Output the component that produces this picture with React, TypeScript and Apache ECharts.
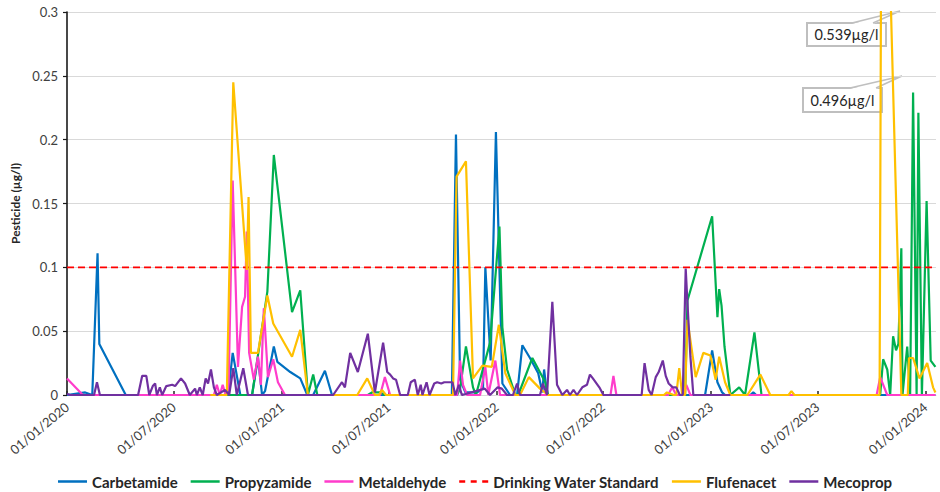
import React, { useEffect, useRef } from "react";
import * as echarts from "echarts";

type Pt = [string, number];

const seriesNames = [
  "Carbetamide",
  "Propyzamide",
  "Metaldehyde",
  "Drinking Water Standard",
  "Flufenacet",
  "Mecoprop",
];

const carbetamide: Pt[] = [
  ["2020-01-01", 0], ["2020-02-01", 0.002], ["2020-02-13", 0], ["2020-02-22", 0.111],
  ["2020-02-25", 0.04], ["2020-04-10", 0], ["2020-10-01", 0], ["2020-10-09", 0.033],
  ["2020-10-22", 0], ["2020-11-11", 0], ["2020-11-21", 0.029], ["2020-11-28", 0],
  ["2020-12-03", 0.003], ["2020-12-18", 0.038], ["2020-12-24", 0.026], ["2021-01-15", 0.018],
  ["2021-02-01", 0.013], ["2021-02-13", 0], ["2021-02-23", 0], ["2021-03-15", 0.019],
  ["2021-03-27", 0], ["2021-10-17", 0], ["2021-10-24", 0.204], ["2021-10-31", 0.012],
  ["2021-11-09", 0.002], ["2021-11-29", 0.002], ["2021-12-09", 0.005], ["2021-12-13", 0.1],
  ["2021-12-22", 0.027], ["2021-12-31", 0.206], ["2022-01-11", 0.009], ["2022-01-24", 0],
  ["2022-02-05", 0], ["2022-02-14", 0.039], ["2022-02-27", 0.029], ["2022-03-13", 0.017],
  ["2022-03-20", 0.002], ["2022-03-23", 0.02], ["2022-03-28", 0], ["2022-12-22", 0],
  ["2023-01-03", 0.035], ["2023-01-12", 0.01], ["2023-01-20", 0.002], ["2023-01-25", 0],
  ["2023-03-09", 0], ["2023-03-14", 0.002], ["2023-03-19", 0], ["2024-01-18", 0],
];

const propyzamide: Pt[] = [
  ["2020-09-01", 0], ["2020-11-11", 0], ["2020-12-07", 0.081], ["2020-12-18", 0.188],
  ["2021-01-18", 0.065], ["2021-02-01", 0.082], ["2021-02-14", 0], ["2021-02-23", 0.016],
  ["2021-03-02", 0], ["2021-05-27", 0], ["2021-06-03", 0.002], ["2021-06-17", 0.002],
  ["2021-06-25", 0], ["2021-10-26", 0], ["2021-10-31", 0.005], ["2021-11-10", 0.038],
  ["2021-11-22", 0.006], ["2021-11-27", 0], ["2021-12-21", 0.041], ["2022-01-06", 0.132],
  ["2022-01-11", 0.053], ["2022-01-19", 0.02], ["2022-02-02", 0], ["2022-02-07", 0],
  ["2022-03-03", 0.029], ["2022-03-25", 0.01], ["2022-03-30", 0], ["2022-11-18", 0],
  ["2022-11-22", 0.074], ["2023-01-03", 0.14], ["2023-01-12", 0.061], ["2023-01-15", 0.083],
  ["2023-01-19", 0.07], ["2023-01-24", 0.038], ["2023-02-03", 0], ["2023-02-18", 0.006],
  ["2023-02-28", 0], ["2023-03-16", 0.049], ["2023-03-28", 0], ["2023-10-16", 0],
  ["2023-10-21", 0.028], ["2023-10-28", 0.02], ["2023-11-02", 0], ["2023-11-07", 0.046],
  ["2023-11-12", 0.035], ["2023-11-16", 0.04], ["2023-11-21", 0.115], ["2023-11-23", 0],
  ["2023-12-01", 0.038], ["2023-12-06", 0], ["2023-12-11", 0.237], ["2023-12-17", 0],
  ["2023-12-20", 0.221], ["2023-12-26", 0], ["2024-01-03", 0.152], ["2024-01-10", 0.027],
  ["2024-01-18", 0.022],
];

const metaldehyde: Pt[] = [
  ["2020-01-01", 0.013], ["2020-01-28", 0], ["2020-09-07", 0], ["2020-09-12", 0.008],
  ["2020-09-17", 0], ["2020-09-22", 0.008], ["2020-09-27", 0], ["2020-10-02", 0.005],
  ["2020-10-09", 0.168], ["2020-10-18", 0.022], ["2020-10-25", 0.069], ["2020-10-30", 0.077],
  ["2020-11-02", 0.128], ["2020-11-06", 0.033], ["2020-11-14", 0.012], ["2020-11-21", 0.03],
  ["2020-11-26", 0.008], ["2020-12-01", 0.068], ["2020-12-08", 0.014], ["2020-12-17", 0.028],
  ["2020-12-25", 0.01], ["2021-01-06", 0], ["2021-06-17", 0], ["2021-06-25", 0.014],
  ["2021-07-04", 0], ["2021-10-26", 0], ["2021-10-31", 0.027], ["2021-11-05", 0.008],
  ["2021-11-12", 0], ["2021-12-04", 0], ["2021-12-13", 0.022], ["2021-12-18", 0],
  ["2021-12-30", 0.027], ["2022-01-07", 0], ["2022-07-14", 0], ["2022-07-19", 0.015],
  ["2022-07-24", 0], ["2022-10-20", 0], ["2022-10-27", 0.006], ["2022-11-03", 0],
  ["2022-11-15", 0], ["2022-11-20", 0.008], ["2022-11-27", 0], ["2023-10-10", 0],
  ["2023-10-16", 0.014], ["2023-10-28", 0], ["2024-01-18", 0],
];

const drinkingWaterStandard: Pt[] = [
  ["2020-01-01", 0.1], ["2024-01-19", 0.1],
];

const flufenacet: Pt[] = [
  ["2020-09-01", 0], ["2020-09-29", 0], ["2020-10-10", 0.245], ["2020-11-02", 0.098],
  ["2020-11-05", 0.155], ["2020-11-09", 0.033], ["2020-11-21", 0.033], ["2020-12-07", 0.078],
  ["2020-12-17", 0.056], ["2021-01-18", 0.03], ["2021-02-01", 0.051], ["2021-02-14", 0],
  ["2021-05-09", 0], ["2021-05-26", 0.013], ["2021-06-08", 0], ["2021-06-15", 0],
  ["2021-06-20", 0.004], ["2021-06-27", 0], ["2021-10-19", 0], ["2021-10-25", 0.171],
  ["2021-11-10", 0.183], ["2021-11-22", 0.013], ["2021-12-08", 0.023], ["2021-12-24", 0.022],
  ["2022-01-05", 0.055], ["2022-01-16", 0.017], ["2022-02-02", 0], ["2022-02-10", 0],
  ["2022-02-25", 0.014], ["2022-03-16", 0.005], ["2022-03-30", 0], ["2022-10-13", 0],
  ["2022-10-18", 0.002], ["2022-10-30", 0], ["2022-11-03", 0], ["2022-11-08", 0.021],
  ["2022-11-13", 0], ["2022-11-18", 0], ["2022-11-22", 0.059], ["2022-12-06", 0.014],
  ["2022-12-19", 0.033], ["2022-12-31", 0.031], ["2023-01-09", 0.012], ["2023-01-15", 0.03],
  ["2023-01-25", 0.01], ["2023-02-03", 0], ["2023-03-04", 0], ["2023-03-26", 0.016],
  ["2023-04-12", 0], ["2023-05-13", 0], ["2023-05-18", 0.003], ["2023-05-23", 0],
  ["2023-10-15", 0], ["2023-10-19", 0.539], ["2023-10-23", 0.496], ["2023-11-21", 0],
  ["2023-12-02", 0], ["2023-12-04", 0.029], ["2023-12-11", 0.029], ["2023-12-22", 0.013],
  ["2024-01-04", 0.025], ["2024-01-14", 0.006], ["2024-01-18", 0.002],
];

const mecoprop: Pt[] = [
  ["2020-01-01", 0.001], ["2020-01-06", 0], ["2020-02-16", 0], ["2020-02-21", 0.01],
  ["2020-02-26", 0], ["2020-05-01", 0], ["2020-05-08", 0.015], ["2020-05-15", 0.015],
  ["2020-05-20", 0], ["2020-05-26", 0.007], ["2020-05-30", 0.009], ["2020-06-02", 0],
  ["2020-06-07", 0.006], ["2020-06-11", 0], ["2020-06-18", 0.007], ["2020-06-28", 0.008],
  ["2020-07-03", 0.007], ["2020-07-13", 0.013], ["2020-07-20", 0.009], ["2020-07-28", 0],
  ["2020-08-06", 0.005], ["2020-08-09", 0], ["2020-08-14", 0.006], ["2020-08-19", 0],
  ["2020-08-24", 0.013], ["2020-08-28", 0.009], ["2020-09-02", 0.02], ["2020-09-07", 0.006],
  ["2020-09-12", 0], ["2020-09-26", 0.004], ["2020-10-03", 0], ["2020-10-10", 0.021],
  ["2020-10-16", 0], ["2020-10-27", 0.021], ["2020-11-04", 0], ["2021-03-29", 0],
  ["2021-04-13", 0.01], ["2021-04-18", 0.006], ["2021-04-27", 0.033], ["2021-05-10", 0.018],
  ["2021-05-27", 0.048], ["2021-06-08", 0.002], ["2021-06-22", 0.041], ["2021-06-29", 0.018],
  ["2021-07-04", 0.016], ["2021-07-09", 0.013], ["2021-07-14", 0.012], ["2021-07-21", 0],
  ["2021-08-03", 0], ["2021-08-08", 0.01], ["2021-08-15", 0.012], ["2021-08-20", 0],
  ["2021-08-25", 0.008], ["2021-08-28", 0], ["2021-09-04", 0.01], ["2021-09-09", 0],
  ["2021-09-17", 0.009], ["2021-09-22", 0.01], ["2021-09-29", 0.009], ["2021-10-04", 0.01],
  ["2021-10-18", 0.01], ["2021-10-23", 0], ["2021-10-29", 0.008], ["2021-11-03", 0],
  ["2021-12-12", 0.005], ["2021-12-21", 0], ["2022-01-03", 0.006], ["2022-01-10", 0.005],
  ["2022-01-19", 0], ["2022-01-29", 0], ["2022-02-05", 0.009], ["2022-02-10", 0],
  ["2022-03-16", 0], ["2022-03-21", 0.009], ["2022-03-28", 0], ["2022-04-06", 0.073],
  ["2022-04-14", 0.008], ["2022-04-23", 0], ["2022-05-01", 0.004], ["2022-05-06", 0],
  ["2022-05-12", 0.004], ["2022-05-18", 0], ["2022-05-27", 0.006], ["2022-06-04", 0.008],
  ["2022-06-09", 0.016], ["2022-06-14", 0.013], ["2022-06-25", 0.006], ["2022-07-02", 0],
  ["2022-09-05", 0], ["2022-09-10", 0.025], ["2022-09-17", 0.004], ["2022-09-22", 0],
  ["2022-09-29", 0.014], ["2022-10-04", 0.018], ["2022-10-11", 0.027], ["2022-10-16", 0.015],
  ["2022-10-21", 0.009], ["2022-10-28", 0.006], ["2022-11-03", 0.006], ["2022-11-09", 0],
  ["2022-11-14", 0], ["2022-11-19", 0.099], ["2022-11-22", 0.072], ["2022-11-27", 0.03],
  ["2022-12-02", 0], ["2023-02-03", 0],
];

const seriesData: Pt[][] = [
  carbetamide, propyzamide, metaldehyde, drinkingWaterStandard, flufenacet, mecoprop,
];

const seriesColors = ["#0070C0", "#00B050", "#FF3CCB", "#FF0000", "#FFC000", "#7030A0"];

const tickDates = [
  "2020-01-01", "2020-07-01", "2021-01-01", "2021-07-01", "2022-01-01",
  "2022-07-01", "2023-01-01", "2023-07-01", "2024-01-01",
];

const xMin = "2020-01-01";
const xMax = "2024-01-19";

const calloutTexts = ["0.539µg/l", "0.496µg/l"];

// icons: 29x14 bounding box (tiny corner specks), visible 2.4px strip centred
const SOLID_ICON =
  "path://M0,0H0.01V0.01H0Z M0,5.8H29V8.2H0Z M28.99,13.99H29V14H28.99Z";
const DASH_ICON =
  "path://M0,0H0.01V0.01H0Z M0,5.8H6V8.2H0Z M11.5,5.8H17.5V8.2H11.5Z M23,5.8H29V8.2H23Z M28.99,13.99H29V14H28.99Z";

function toTs(s: string): number {
  const [y, m, d] = s.split("-").map(Number);
  return Date.UTC(y, m - 1, d);
}

function fmt(v: number): string {
  const d = new Date(v);
  const p = (n: number) => (n < 10 ? "0" + n : "" + n);
  return p(d.getUTCDate()) + "/" + p(d.getUTCMonth() + 1) + "/" + d.getUTCFullYear();
}

const FONT = "Lato, 'Open Sans', sans-serif";

function callout(text: string, x: number, y: number, w: number, h: number, bx1: number, bx2: number, tx: number, ty: number) {
  return {
    type: "group",
    children: [
      {
        type: "rect",
        shape: { x, y, width: w, height: h },
        style: { fill: "#ffffff", stroke: "#bfbfbf", lineWidth: 2 },
      },
      {
        type: "polygon",
        shape: { points: [[bx1, y + 1], [tx, ty], [bx2, y + 1]] },
        style: { fill: "#ffffff" },
      },
      {
        type: "polyline",
        shape: { points: [[bx1, y], [tx, ty], [bx2, y]] },
        style: { fill: "none", stroke: "#bfbfbf", lineWidth: 1.5 },
      },
      {
        type: "text",
        x: x + w / 2,
        y: y + h / 2,
        style: {
          text,
          fill: "#262626",
          font: `14.5px ${FONT}`,
          align: "center",
          verticalAlign: "middle",
        },
      },
    ],
  };
}

export default function App() {
  const ref = useRef<HTMLDivElement>(null);
  useEffect(() => {
    if (!ref.current) return;
    const chart = echarts.init(ref.current, undefined, { renderer: "svg" });
    const tickVals = tickDates.map(toTs);
    const series: any[] = seriesNames.map((name, i) => ({
      name,
      type: "line",
      data: seriesData[i].map((p) => [toTs(p[0]), p[1]]),
      showSymbol: false,
      symbol: "none",
      color: seriesColors[i],
      lineStyle:
        i === 3
          ? { color: seriesColors[i], width: 1.6, type: [7, 4] }
          : { color: seriesColors[i], width: 2.2 },
      z: 2 + i,
    }));
    chart.setOption({
      animation: false,
      grid: { left: 67, right: 4, top: 12, bottom: 97 },
      xAxis: {
        type: "value",
        min: toTs(xMin),
        max: toTs(xMax),
        axisLine: { show: true, onZero: false, lineStyle: { color: "#d9d9d9", width: 1 } },
        axisTick: {
          show: true,
          inside: true,
          length: 4,
          customValues: tickVals,
          lineStyle: { color: "#262626", width: 1.5 },
        },
        axisLabel: {
          customValues: tickVals,
          formatter: (v: number) => fmt(v),
          rotate: 40,
          margin: 10,
          color: "#404040",
          fontFamily: FONT,
          fontSize: 13,
        },
        splitLine: { show: false },
      },
      yAxis: {
        type: "value",
        min: 0,
        max: 0.3,
        interval: 0.05,
        name: "Pesticide (µg/l)",
        nameLocation: "middle",
        nameGap: 46,
        nameRotate: 90,
        nameTextStyle: { fontFamily: FONT, fontWeight: "bold", fontSize: 12, color: "#262626" },
        axisLine: { show: true, lineStyle: { color: "#1a1a1a", width: 1.6 } },
        axisTick: { show: true, length: 4, lineStyle: { color: "#1a1a1a", width: 1.2 } },
        axisLabel: { color: "#404040", fontFamily: FONT, fontSize: 13, margin: 9 },
        splitLine: { show: true, lineStyle: { color: "#d9d9d9", width: 1 } },
      },
      legend: {
        data: seriesNames.map((name, i) => ({ name, icon: i === 3 ? DASH_ICON : SOLID_ICON })),
        left: 58,
        top: 474,
        padding: 0,
        itemWidth: 29,
        itemHeight: 14,
        itemGap: 13,
        textStyle: { fontFamily: FONT, fontWeight: "bold", fontSize: 15, color: "#262626" },
      },
      graphic: [
        callout(calloutTexts[0], 807, 23, 79, 23, 852, 873, 900, 11),
        callout(calloutTexts[1], 803, 88, 79, 24, 850, 876, 902, 76),
      ],
      series,
    });
    return () => chart.dispose();
  }, []);
  return (
    <div
      ref={ref}
      style={{ position: "fixed", left: 0, top: 0, width: 940, height: 492, background: "#fff" }}
    />
  );
}
